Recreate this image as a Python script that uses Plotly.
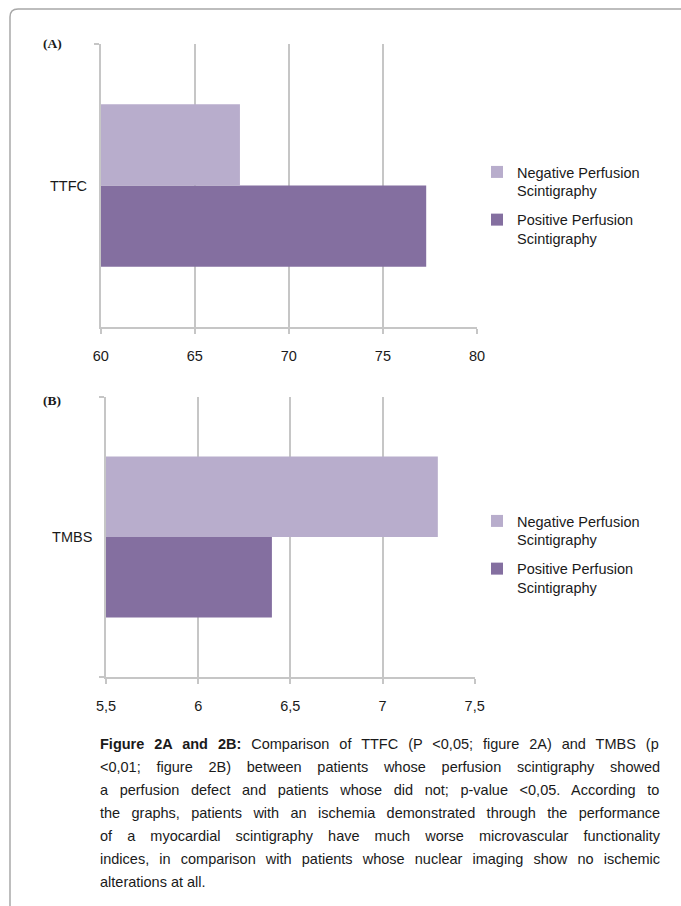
import plotly.graph_objects as go

# ---------------- data ----------------
categories_a = ["TTFC"]
categories_b = ["TMBS"]
series_negative = "Negative Perfusion<br>Scintigraphy"
series_positive = "Positive Perfusion<br>Scintigraphy"
ttfc_negative = [67.4]
ttfc_positive = [77.3]
tmbs_negative = [7.3]
tmbs_positive = [6.4]
ticks_a_vals = [60, 65, 70, 75, 80]
ticks_a_text = ["60", "65", "70", "75", "80"]
ticks_b_vals = [5.5, 6, 6.5, 7, 7.5]
ticks_b_text = ["5,5", "6", "6,5", "7", "7,5"]
panel_labels = ["(A)", "(B)"]
caption_bold = "Figure 2A and 2B:"
caption_lines = [
    " Comparison of TTFC (P <0,05; figure 2A) and TMBS (p",
    "<0,01; figure 2B) between patients whose perfusion scintigraphy showed",
    "a perfusion defect and patients whose did not; p-value <0,05. According to",
    "the graphs, patients with an ischemia demonstrated through the performance",
    "of a myocardial scintigraphy have much worse microvascular functionality",
    "indices, in comparison with patients whose nuclear imaging show no ischemic",
    "alterations at all.",
]

# ---------------- style ----------------
W, H = 681, 906
LIGHT = "#B8ADCC"
DARK = "#846FA0"
GRID = "#C6C6C6"
FONT = "Liberation Sans, Arial, sans-serif"
TXT = "#1a1a1a"


def px(x):
    return x / W


def py(y):
    return 1 - y / H


# Arial / Helvetica metric widths (1/1000 em) for caption justification
REG = {' ': 278, '(': 333, ')': 333, ',': 278, '-': 333, '.': 278, ':': 278, ';': 278, '<': 584}
for d in "0123456789":
    REG[d] = 556
REG.update(dict(zip("ABCDEFGHIJKLMNOPQRSTUVWXYZ",
                    [667, 667, 722, 722, 667, 611, 778, 722, 278, 500, 667, 556, 833,
                     722, 778, 667, 778, 722, 667, 611, 722, 667, 944, 667, 667, 611])))
REG.update(dict(zip("abcdefghijklmnopqrstuvwxyz",
                    [556, 556, 500, 556, 556, 278, 556, 556, 222, 222, 500, 222, 833,
                     556, 556, 556, 556, 333, 500, 278, 556, 500, 722, 500, 500, 500])))
BOLD = {' ': 278, 'F': 611, 'i': 278, 'g': 611, 'u': 611, 'r': 389, 'e': 556, '2': 556,
        'A': 722, 'a': 556, 'n': 611, 'd': 611, 'B': 722, ':': 333}

CAP_SIZE = 14.5
CAP_LEFT, CAP_RIGHT = 100, 660


def twidth(s, table):
    return sum(table.get(c, 556) for c in s) / 1000.0 * CAP_SIZE


def esc(s):
    return s.replace("&", "&amp;").replace("<", "&lt;").replace(">", "&gt;")


fig = go.Figure()

# panel A (trace order: first trace sits lowest in a horizontal group)
fig.add_trace(go.Bar(y=categories_a, x=ttfc_positive, orientation="h", name=series_positive,
                     marker=dict(color=DARK, line=dict(width=0)), xaxis="x", yaxis="y",
                     legend="legend", legendrank=2, legendgroup="a_pos"))
fig.add_trace(go.Bar(y=categories_a, x=ttfc_negative, orientation="h", name=series_negative,
                     marker=dict(color=LIGHT, line=dict(width=0)), xaxis="x", yaxis="y",
                     legend="legend", legendrank=1, legendgroup="a_neg"))
# panel B
fig.add_trace(go.Bar(y=categories_b, x=tmbs_positive, orientation="h", name=series_positive,
                     marker=dict(color=DARK, line=dict(width=0)), xaxis="x2", yaxis="y2",
                     legend="legend2", legendrank=2, legendgroup="b_pos"))
fig.add_trace(go.Bar(y=categories_b, x=tmbs_negative, orientation="h", name=series_negative,
                     marker=dict(color=LIGHT, line=dict(width=0)), xaxis="x2", yaxis="y2",
                     legend="legend2", legendrank=1, legendgroup="b_neg"))


def xax(domain, anchor, rng, vals, text):
    return dict(domain=domain, anchor=anchor, range=rng, tickmode="array", tickvals=vals,
                ticktext=text, showgrid=True, gridcolor=GRID, gridwidth=1.5, showline=True,
                linecolor=GRID, linewidth=1.5, ticks="outside", ticklen=5, tickwidth=1.5,
                tickcolor=GRID, ticklabelstandoff=10, zeroline=False, fixedrange=True,
                automargin=False,
                tickfont=dict(family=FONT, size=14.5, color=TXT))


def yax(domain, anchor):
    return dict(domain=domain, anchor=anchor, type="category", range=[-0.5, 0.5],
                showgrid=False, showline=True, linecolor=GRID, linewidth=1.5,
                ticks="outside", tickson="boundaries", ticklen=5, tickwidth=1.5,
                tickcolor=GRID, ticklabelstandoff=9, fixedrange=True, automargin=False,
                tickfont=dict(family=FONT, size=14.5, color=TXT))


legend_common = dict(xanchor="left", yanchor="top", valign="top", bgcolor="rgba(0,0,0,0)",
                     borderwidth=0, tracegroupgap=7,
                     font=dict(family=FONT, size=14.5, color=TXT))

annotations = []
# panel labels
for lab, yc in zip(panel_labels, [43, 400]):
    annotations.append(dict(text="<b>%s</b>" % lab, x=px(43), y=py(yc), xref="paper", yref="paper",
                            xanchor="left", yanchor="middle", showarrow=False, borderpad=0,
                            borderwidth=0,
                            font=dict(family="Liberation Serif, Times New Roman, serif",
                                      size=13.5, color=TXT)))

# caption (justified through word-spacing)
target = CAP_RIGHT - CAP_LEFT
for i, line in enumerate(caption_lines):
    if i == 0:
        full = caption_bold + line
        natural = twidth(caption_bold, BOLD) + twidth(line, REG)
        body = "<b>%s</b>%s" % (esc(caption_bold), esc(line))
    else:
        full = line
        natural = twidth(line, REG)
        body = esc(line)
    n_sp = full.count(" ")
    if i < len(caption_lines) - 1 and n_sp > 0:
        ws = (target - natural) / n_sp
        body = '<span style="word-spacing:%.2fpx">%s</span>' % (ws, body)
    annotations.append(dict(text=body, x=px(CAP_LEFT), y=py(744 + 23 * i), xref="paper",
                            yref="paper", xanchor="left", yanchor="middle", showarrow=False,
                            borderpad=0, borderwidth=0, align="left",
                            font=dict(family=FONT, size=CAP_SIZE, color=TXT)))

# page border (rounded top-left corner)
border_path = "M %f,%f L %f,%f Q %f,%f %f,%f L %f,%f" % (
    px(10), py(906), px(10), py(17), px(10), py(9), px(18), py(9), px(681), py(9))

fig.update_layout(
    width=W, height=H, autosize=False,
    margin=dict(l=0, r=0, t=0, b=0, pad=0, autoexpand=False),
    paper_bgcolor="white", plot_bgcolor="white",
    barmode="group", bargap=0.425, bargroupgap=0,
    font=dict(family=FONT, color=TXT),
    xaxis=xax([px(100.7), px(477)], "y", [60, 80], ticks_a_vals, ticks_a_text),
    yaxis=yax([py(327), py(44)], "x"),
    xaxis2=xax([px(106), px(474.7)], "y2", [5.5, 7.5], ticks_b_vals, ticks_b_text),
    yaxis2=yax([py(677), py(397)], "x2"),
    legend=dict(x=px(477), y=py(156), **legend_common),
    legend2=dict(x=px(477), y=py(505), **legend_common),
    showlegend=True,
    annotations=annotations,
    shapes=[dict(type="path", path=border_path, xref="paper", yref="paper",
                 line=dict(color="#A8A8A8", width=1.5), layer="above")],
)

page_fix = ("document.documentElement.style.margin='0';document.body.style.margin='0';"
            "document.body.style.padding='0';document.body.style.overflow='hidden';"
            "document.documentElement.style.overflow='hidden';")

fig.write_html("out.html", include_plotlyjs=True, config={"displayModeBar": False},
               post_script=page_fix)
